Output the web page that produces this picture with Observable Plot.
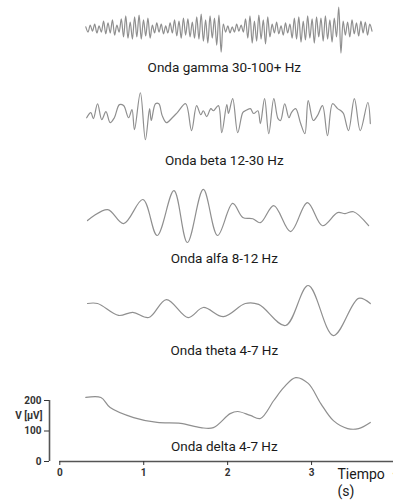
<!DOCTYPE html>
<html>
<head>
<meta charset="utf-8">
<script src="https://cdn.jsdelivr.net/npm/d3@7"></script>
<script src="https://cdn.jsdelivr.net/npm/@observablehq/plot@0.6"></script>
<style>
  html, body { margin: 0; padding: 0; background: #fff; }
  #chart svg { display: block; }
</style>
</head>
<body>
<div id="chart"></div>
<script>
// ---------- DATA ----------
const waveNames = ["Onda gamma 30-100+ Hz", "Onda beta 12-30 Hz", "Onda alfa 8-12 Hz", "Onda theta 4-7 Hz", "Onda delta 4-7 Hz"];
const xTicks = [0, 1, 2, 3, 4];
const yTicks = [0, 100, 200];
const yLabel = "V [µV]";
const xLabel = "Tiempo\n(s)";

// Gamma: successive extrema (µV, relative to its baseline), evenly sampled from t0 to t1
const gammaT0 = 0.31, gammaT1 = 3.72;
const gammaV = [
  7,-10,13,-7,16,-13,10,-10,26,-16,20,-13,30,-20,13,-10,
  33,-26,43,-30,23,-33,40,-26,46,-33,30,-23,36,-30,
  13,-13,20,-10,16,-16,10,-13,20,-13,
  30,-23,26,-30,36,-20,33,-26,23,-30,
  40,-33,49,-40,30,-46,43,-30,36,-53,46,-76,
  16,-10,10,-13,7,-10,16,-7,13,-10,
  33,-30,43,-46,26,-40,46,-33,30,-49,40,-26,
  16,-13,23,-16,10,-20,20,-13,16,
  -30,36,-33,40,-43,26,-36,43,-30,33,-46,40,-26,36,-40,43,-33,30,-43,36,
  -26,72,-79,
  26,-20,23,-26,30,-16,20,-23,26,-13,23,-20,16,-7
];

// Beta (time s, µV relative)
const betaT = [0.32,0.37,0.40,0.45,0.50,0.55,0.60,0.65,0.71,0.76,0.82,0.86,0.89,0.96,1.02,1.07,1.09,1.14,1.18,1.22,1.27,1.34,1.40,1.50,1.57,1.63,1.68,1.71,1.75,1.80,1.83,1.89,1.93,1.99,2.01,2.06,2.12,2.18,2.21,2.27,2.31,2.36,2.39,2.44,2.49,2.55,2.60,2.63,2.68,2.73,2.76,2.81,2.87,2.92,2.96,3.02,3.07,3.13,3.19,3.25,3.31,3.35,3.38,3.44,3.51,3.58,3.67,3.70];
const betaV = [-7,10,-10,39,-13,13,-23,-7,36,33,-7,20,-46,75,-79,23,-16,39,39,0,-23,-7,10,39,-49,33,3,16,-3,23,16,33,-56,36,7,56,-56,10,16,23,7,16,-26,56,-59,56,-10,-16,39,-7,10,23,-26,-59,49,-16,0,33,-66,39,23,16,7,-49,56,-49,43,-26];

// Alfa
const alfaT = [0.33,0.57,0.76,0.99,1.16,1.36,1.52,1.71,1.88,2.06,2.18,2.30,2.39,2.55,2.75,2.95,3.13,3.31,3.40,3.50,3.68];
const alfaV = [-13,23,-23,56,-62,85,-85,89,-62,43,-3,-7,-20,36,-49,46,-30,13,10,16,-30];

// Theta
const thetaT = [0.33,0.45,0.70,0.87,1.06,1.27,1.53,1.71,1.95,2.21,2.37,2.69,2.96,3.26,3.56,3.70];
const thetaV = [13,13,-26,-16,-33,26,-33,0,-30,13,10,-59,72,-92,30,13];

// Delta (absolute µV, on the drawn axis)
const deltaT = [0.31,0.49,0.60,0.88,1.16,1.44,1.68,1.83,2.03,2.12,2.27,2.39,2.55,2.67,2.81,2.96,3.11,3.26,3.43,3.56,3.70];
const deltaV = [210,210,177,144,128,125,111,111,157,164,151,141,200,243,275,256,190,134,108,108,128];

// ---------- LAYOUT (vertical stacking of the traces, in µV units of the shared axis) ----------
const offsets = [1418, 1134, 803, 505, 0];
const labelY = [1292, 987, 666, 364, 50];
const labelX = 1.96;

// ---------- build tables ----------
const gammaStep = (gammaT1 - gammaT0) / (gammaV.length - 1);
const series = [
  gammaV.map((v, i) => ({t: gammaT0 + i * gammaStep, v})),
  betaT.map((t, i) => ({t, v: betaV[i]})),
  alfaT.map((t, i) => ({t, v: alfaV[i]})),
  thetaT.map((t, i) => ({t, v: thetaV[i]})),
  deltaT.map((t, i) => ({t, v: deltaV[i]}))
];
const rows = series.flatMap((s, k) => s.map(d => ({wave: waveNames[k], t: d.t, y: d.v + offsets[k]})));
const labels = waveNames.map((name, k) => ({name, t: labelX, y: labelY[k]}));

const FONT = "Roboto, 'Noto Sans', sans-serif";

const chart = Plot.plot({
  width: 393,
  height: 504,
  marginTop: 0,
  marginLeft: 49,
  marginRight: 0,
  marginBottom: 43,
  x: {domain: [0, 4], range: [59.3, 395]},
  y: {domain: [0, 200], range: [461, 400]},
  style: {fontFamily: FONT, background: "#fff", color: "#222"},
  marks: [
    Plot.line(rows, {x: "t", y: "y", z: "wave", curve: "catmull-rom", stroke: "#8f8f8f", strokeWidth: 1.2}),
    Plot.text(labels, {x: "t", y: "y", text: "name", fontSize: 13.5, fill: "#1a1a1a"}),
    Plot.ruleY([0], {x1: 0, x2: 4, stroke: "#555", strokeWidth: 1.6}),
    Plot.ruleX([0], {y1: 0, y2: 200, dx: -10.3, stroke: "#555", strokeWidth: 1.6}),
    Plot.axisX({ticks: xTicks, tickSize: 4, tickPadding: 3, label: null, fontSize: 10, fontWeight: "bold", color: "#333", tickFormat: d3.format("d")}),
    Plot.axisY({anchor: "left", ticks: yTicks, tickSize: 5, tickPadding: 3, label: null, fontSize: 10, fontWeight: "bold", color: "#333", tickFormat: d3.format("d")}),
    Plot.text([yLabel], {y: () => 150, frameAnchor: "left", dx: -7, textAnchor: "end", fontSize: 10, fontWeight: "bold", fill: "#333"}),
    Plot.text([xLabel], {frameAnchor: "bottom-right", textAnchor: "start", lineAnchor: "top", dx: -56, dy: 6, lineHeight: 1.2, fontSize: 14, fill: "#1a1a1a"})
  ]
});
document.getElementById("chart").appendChild(chart);
</script>
</body>
</html>
